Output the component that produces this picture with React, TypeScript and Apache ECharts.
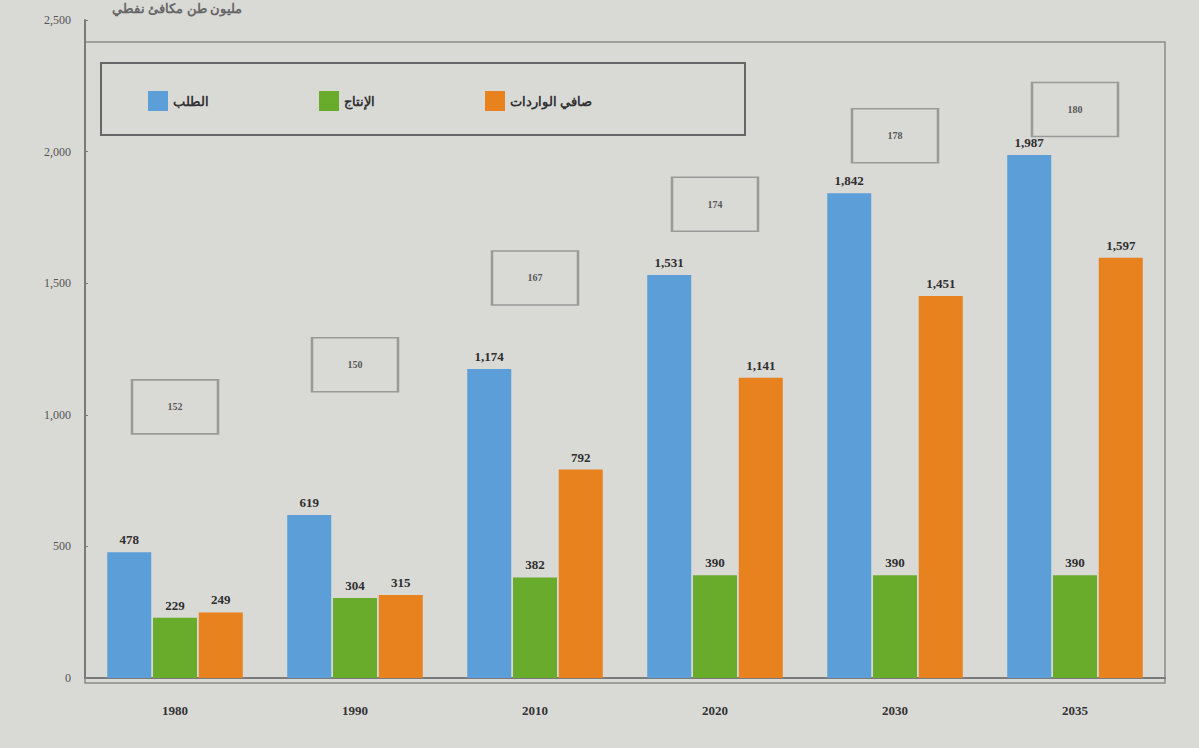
import React, { useEffect, useRef } from "react";
import * as echarts from "echarts";

const years = ["1980", "1990", "2010", "2020", "2030", "2035"];
const demand = [478, 619, 1174, 1531, 1842, 1987];
const production = [229, 304, 382, 390, 390, 390];
const netImports = [249, 315, 792, 1141, 1451, 1597];
const boxValues = [152, 150, 167, 174, 178, 180];
const boxLevels = [1030, 1190, 1520, 1800, 2060, 2160];
const seriesNames = ["الطلب", "الإنتاج", "صافي الواردات"];
const unitTitle = "مليون طن مكافئ نفطي";

const fmt = (v: number) => v.toLocaleString("en-US");

export default function App() {
  const ref = useRef<HTMLDivElement>(null);
  useEffect(() => {
    document.body.style.margin = "0";
    document.body.style.background = "#d9d9d6";
    if (!ref.current) return;
    const chart = echarts.init(ref.current, undefined, { renderer: "svg" });
    const labelStyle = {
      show: true,
      position: "top" as const,
      fontFamily: "Liberation Serif",
      fontWeight: "bold" as const,
      fontSize: 13,
      color: "#2e2e2e",
      distance: 6,
      formatter: (p: any) => fmt(p.value),
    };
    chart.setOption({
      animation: false,
      backgroundColor: "#d9d9d6",
      textStyle: { fontFamily: "Liberation Serif" },
      grid: { left: 85, right: 34, top: 20, bottom: 70 },
      legend: {
        data: seriesNames,
        left: 143,
        top: 86,
        itemWidth: 20,
        itemHeight: 20,
        itemGap: 110,
        icon: "rect",
        textStyle: {
          fontFamily: "Noto Sans",
          fontWeight: "bold",
          fontSize: 13,
          color: "#333",
        },
      },
      graphic: [
        {
          type: "rect",
          shape: { x: 85, y: 42, width: 1080, height: 641 },
          style: { fill: "none", stroke: "#8a8a8a", lineWidth: 1.5 },
          silent: true,
          z: -1,
        },
        {
          type: "rect",
          shape: { x: 101, y: 63, width: 644, height: 72 },
          style: { fill: "none", stroke: "#666", lineWidth: 2 },
          silent: true,
        },
        {
          type: "text",
          left: 112,
          top: 1,
          style: {
            text: unitTitle,
            font: "bold 13px 'Noto Sans'",
            fill: "#666",
          },
        },
      ],
      xAxis: {
        type: "category",
        data: years,
        axisLine: { show: true, lineStyle: { color: "#7a7a7a", width: 2 } },
        axisTick: { show: false },
        axisLabel: {
          margin: 26,
          fontFamily: "Liberation Serif",
          fontWeight: "bold",
          fontSize: 13,
          color: "#333",
        },
      },
      yAxis: {
        type: "value",
        min: 0,
        max: 2500,
        interval: 500,
        axisLine: { show: true, lineStyle: { color: "#7a7a7a", width: 2 } },
        axisTick: { show: true, length: 3, inside: true, lineStyle: { color: "#7a7a7a" } },
        splitLine: { show: false },
        axisLabel: {
          formatter: (v: number) => fmt(v),
          fontFamily: "Liberation Serif",
          fontSize: 12,
          color: "#555",
          margin: 14,
        },
      },
      series: [
        {
          name: seriesNames[0],
          type: "bar",
          data: demand,
          barWidth: 44,
          barGap: "4%",
          itemStyle: { color: "#5b9ed8" },
          label: labelStyle,
        },
        {
          name: seriesNames[1],
          type: "bar",
          data: production,
          barWidth: 44,
          barGap: "4%",
          itemStyle: { color: "#69ab2b" },
          label: labelStyle,
        },
        {
          name: seriesNames[2],
          type: "bar",
          data: netImports,
          barWidth: 44,
          barGap: "4%",
          itemStyle: { color: "#e8821f" },
          label: labelStyle,
        },
        {
          name: "boxes",
          type: "scatter",
          data: years.map((y, i) => [y, boxLevels[i], boxValues[i]]),
          symbol: "rect",
          symbolSize: [86, 54],
          itemStyle: { color: "rgba(0,0,0,0)", borderColor: "#8a8a8a", borderWidth: 2 },
          label: {
            show: true,
            position: "inside",
            formatter: (p: any) => String(p.value[2]),
            fontFamily: "Liberation Serif",
            fontWeight: "bold",
            fontSize: 10,
            color: "#333",
          },
          z: 1,
        },
      ],
    });
    return () => chart.dispose();
  }, []);
  return <div ref={ref} style={{ width: 1199, height: 748 }} />;
}
